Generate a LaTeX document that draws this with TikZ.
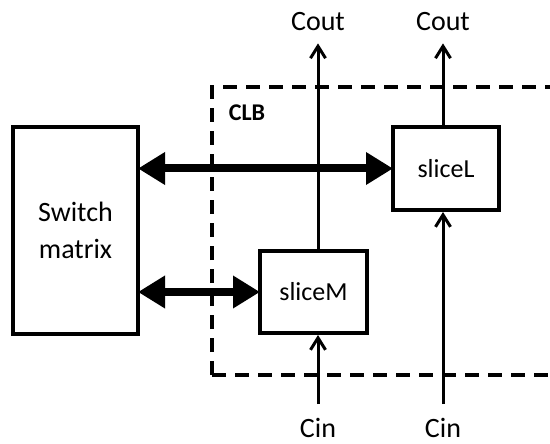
\documentclass[tikz,border=0pt]{standalone}
\usepackage{fontspec}
\setmainfont{Carlito}
\usetikzlibrary{arrows.meta}

\begin{document}
\begin{tikzpicture}[x=1pt, y=-1pt,
		block/.style={draw, line width=4pt, fill=white, font=\fontsize{26}{30}\selectfont, align=center},
		label/.style={font=\fontsize{28}{32}\selectfont, inner sep=0pt},
		thin arrow/.style={line width=3pt, -{Straight Barb[length=12pt, width=15pt]}},
		bus/.style={line width=8pt, {Triangle[length=27pt, width=31pt]}-{Triangle[length=27pt, width=31pt]}, shorten <=-2pt, shorten >=-2pt}]
		\clip (0, 0) rectangle (550, 444);
		\draw [line width=3.5pt, dash pattern=on 14pt off 9pt] (212, 375) -- (212, 87) -- (575, 87);
		\draw [line width=3.5pt, dash pattern=on 14pt off 9pt] (212, 375) -- (575, 375);
		\node (clb) at (247, 113) {\fontsize{24}{28}\selectfont\bfseries CLB};
		\node [block, minimum width=125pt, minimum height=207pt, font=\fontsize{28}{37}\selectfont] (sw) at (75.5, 230.5) {Switch\\matrix};
		\node [block, minimum width=106pt, minimum height=83pt] (slL) at (446, 168.5) {sliceL};
		\node [block, minimum width=107pt, minimum height=82pt] (slM) at (313.5, 292) {sliceM};
		\node [label] (coutM) at (318, 22) {Cout};
		\node [label] (coutL) at (443, 22) {Cout};
		\node [label] (cinM) at (318, 428) {Cin};
		\node [label] (cinL) at (443, 428) {Cin};
		\draw [thin arrow] (slM.north -| coutM) -- ([yshift=-12pt] coutM.south);
		\draw [thin arrow] (slL.north -| coutL) -- ([yshift=-12pt] coutL.south);
		\draw [thin arrow] ([yshift=14pt] cinM.north) -- (slM.south -| cinM);
		\draw [thin arrow] ([yshift=14pt] cinL.north) -- (slL.south -| cinL);
		\draw [bus] (sw.east |- slL.west) -- (slL.west);
		\draw [bus] (sw.east |- slM.west) -- (slM.west);
	\end{tikzpicture}
\end{document}
